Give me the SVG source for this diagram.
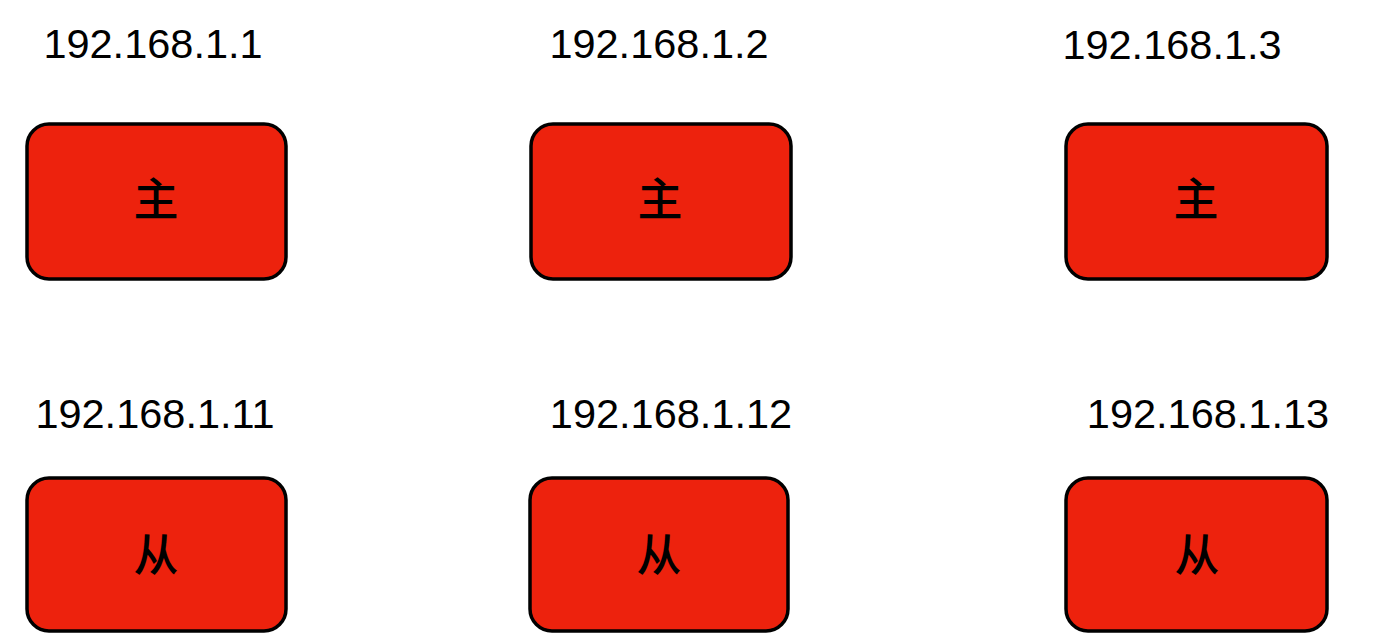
<svg xmlns="http://www.w3.org/2000/svg" width="1378" height="633" viewBox="0 0 1378 633">
<style>
.box{fill:#ED220D;stroke:#000;stroke-width:3.5}
.ip{font-family:"Liberation Sans",Arial,sans-serif;font-size:41.5px;fill:#000;text-anchor:middle}
.lbl{font-family:"Noto Sans CJK SC","Noto Sans",sans-serif;font-size:45px;font-weight:500;fill:#000;text-anchor:middle}
</style>
<rect width="1378" height="633" fill="#fff"/>
<g id="m1"><text class="ip" x="153" y="58">192.168.1.1</text><rect class="box" x="27" y="124" width="259" height="155" rx="22"/><text class="lbl" x="156" y="216">主</text></g>
<g id="m2"><text class="ip" x="659" y="58">192.168.1.2</text><rect class="box" x="531" y="124" width="260" height="155" rx="22"/><text class="lbl" x="660" y="216">主</text></g>
<g id="m3"><text class="ip" x="1172" y="59">192.168.1.3</text><rect class="box" x="1066" y="124" width="261" height="155" rx="22"/><text class="lbl" x="1196" y="216">主</text></g>
<g id="s1"><text class="ip" x="155" y="428">192.168.1.11</text><rect class="box" x="27" y="478" width="259" height="153" rx="22"/><text class="lbl" x="156" y="572">从</text></g>
<g id="s2"><text class="ip" x="671" y="428">192.168.1.12</text><rect class="box" x="530" y="478" width="258" height="153" rx="22"/><text class="lbl" x="659" y="572">从</text></g>
<g id="s3"><text class="ip" x="1208" y="428">192.168.1.13</text><rect class="box" x="1066" y="478" width="261" height="153" rx="22"/><text class="lbl" x="1197" y="572">从</text></g>
<g id="connectors"></g>
</svg>
